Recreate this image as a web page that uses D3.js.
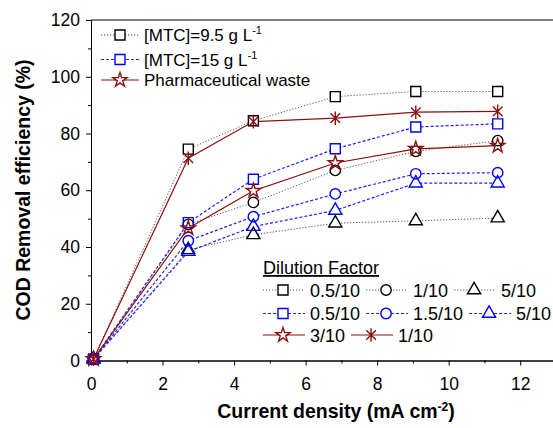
<!DOCTYPE html>
<html>
<head>
<meta charset="utf-8">
<script src="https://cdn.jsdelivr.net/npm/d3@7"></script>
<style>
body { margin: 0; background: #fff; }
text { font-family: Arial, "Liberation Sans", sans-serif; fill: #000; }
</style>
</head>
<body>
<div id="chart"></div>
<script>
// current density (mA cm-2)
const currentDensity = [0.07, 2.72, 4.54, 6.83, 9.08, 11.37];

// COD removal (%) - [MTC]=9.5 g/L
const mtc95Dil05 = [0.5, 74.5, 84.5, 93.0, 94.8, 94.8];
const mtc95Dil1 = [0.5, 48.0, 55.7, 67.0, 73.7, 77.5];
const mtc95Dil5 = [0.5, 39.0, 44.3, 48.4, 49.2, 50.2];
// [MTC]=15 g/L
const mtc15Dil05 = [0.5, 48.6, 63.9, 74.6, 82.3, 83.4];
const mtc15Dil15 = [0.5, 42.2, 50.7, 58.7, 65.8, 66.2];
const mtc15Dil5 = [0.5, 38.4, 47.2, 52.9, 62.5, 62.5];
// pharmaceutical waste
const pharmaDil3 = [0.5, 46.6, 59.8, 69.6, 74.6, 75.7];
const pharmaDil1 = [0.5, 71.3, 84.2, 85.4, 87.5, 87.8];

const xMajorTicks = [0, 2, 4, 6, 8, 10, 12];
const xMinorTicks = [1, 3, 5, 7, 9, 11];
const yMajorTicks = [0, 20, 40, 60, 80, 100, 120];
const yMinorTicks = [10, 30, 50, 70, 90, 110];

const styles = {
	black: { color: '#000', line: '#555', dash: '1.2,1.8', width: 1 },
	blue: { color: '#0000ff', line: '#2020ff', dash: '3,2', width: 1.2 },
	red: { color: '#8c1010', line: '#8c1010', dash: null, width: 1.2 },
};

const series = [
	{ label: '0.5/10', group: 'black', marker: 'square', values: mtc95Dil05 },
	{ label: '1/10', group: 'black', marker: 'circle', values: mtc95Dil1 },
	{ label: '5/10', group: 'black', marker: 'triangle', values: mtc95Dil5 },
	{ label: '0.5/10', group: 'blue', marker: 'square', values: mtc15Dil05 },
	{ label: '1.5/10', group: 'blue', marker: 'circle', values: mtc15Dil15 },
	{ label: '5/10', group: 'blue', marker: 'triangle', values: mtc15Dil5 },
	{ label: '3/10', group: 'red', marker: 'star', values: pharmaDil3 },
	{ label: '1/10', group: 'red', marker: 'asterisk', values: pharmaDil1 },
];

const width = 553, height = 428;
const margin = { top: 20, left: 91 };
const plotW = 465, plotH = 340.5;

const svg = d3.select('#chart').append('svg')
	.attr('width', width)
	.attr('height', height);

const g = svg.append('g').attr('transform', `translate(${margin.left}, ${margin.top})`);

const xScale = d3.scaleLinear().domain([0, 13]).range([0, plotW]);
const yScale = d3.scaleLinear().domain([0, 120]).range([plotH, 0]);

// marker shapes
function markerPath(type) {
	if (type === 'square') return d3.symbol(d3.symbolSquare, 100)();
	if (type === 'circle') return d3.symbol(d3.symbolCircle, 85)();
	if (type === 'triangle') return d3.symbol(d3.symbolTriangle, 75)();
	if (type === 'star') return d3.symbol(d3.symbolStar, 64)();
	// asterisk: vertical + two diagonals
	const r = 6.8, d = r * Math.SQRT1_2;
	return `M0,${-r}L0,${r}M${-d},${-d}L${d},${d}M${-d},${d}L${d},${-d}`;
}

// frame top + right lines
g.append('line')
	.attr('x1', 0).attr('x2', plotW)
	.attr('y1', 0).attr('y2', 0)
	.attr('stroke', '#000');
g.append('line')
	.attr('x1', plotW).attr('x2', plotW)
	.attr('y1', 0).attr('y2', plotH)
	.attr('stroke', '#000');

// axes
const axisFont = g => g.selectAll('text').style('font-size', '17.5px').attr('fill', '#000');
g.append('g').attr('transform', `translate(0, ${plotH})`)
	.call(d3.axisBottom(xScale).tickValues(xMinorTicks).tickSize(3).tickSizeOuter(0).tickFormat(''));
g.append('g').attr('transform', `translate(0, ${plotH})`)
	.call(d3.axisBottom(xScale).tickValues(xMajorTicks).tickSize(5).tickSizeOuter(0).tickPadding(12))
	.call(axisFont);
g.append('g')
	.call(d3.axisLeft(yScale).tickValues(yMinorTicks).tickSize(3).tickSizeOuter(0).tickFormat(''));
g.append('g')
	.call(d3.axisLeft(yScale).tickValues(yMajorTicks).tickSize(5).tickSizeOuter(0).tickPadding(6))
	.call(axisFont);
g.selectAll('.domain').attr('stroke', '#000');

// lines
const line = d3.line()
	.x((d, i) => xScale(currentDensity[i]))
	.y(d => yScale(d));

g.append('g').selectAll('path')
	.data(series)
	.join('path')
	.attr('fill', 'none')
	.attr('stroke', d => styles[d.group].line)
	.attr('stroke-width', d => styles[d.group].width)
	.attr('stroke-dasharray', d => styles[d.group].dash)
	.attr('d', d => line(d.values));

// markers: white backgrounds first, then outlines
const points = series.flatMap(s => s.values.map((v, i) => ({ s, x: currentDensity[i], y: v })));
g.append('g').selectAll('path')
	.data(points.filter(p => p.s.marker !== 'asterisk'))
	.join('path')
	.attr('transform', p => `translate(${xScale(p.x)}, ${yScale(p.y)})`)
	.attr('d', p => markerPath(p.s.marker))
	.attr('fill', '#fff');
g.append('g').selectAll('path')
	.data(points)
	.join('path')
	.attr('transform', p => `translate(${xScale(p.x)}, ${yScale(p.y)})`)
	.attr('d', p => markerPath(p.s.marker))
	.attr('fill', 'none')
	.attr('stroke', p => styles[p.s.group].color)
	.attr('stroke-width', 1.4);

// legend entry helper
function legendSample(parent, x, y, len, markerX, s) {
	const st = styles[s.group];
	parent.append('line')
		.attr('x1', x).attr('x2', x + len)
		.attr('y1', y).attr('y2', y)
		.attr('stroke', st.line)
		.attr('stroke-width', st.width)
		.attr('stroke-dasharray', st.dash);
	if (s.marker !== 'asterisk') {
		parent.append('path')
			.attr('transform', `translate(${markerX}, ${y})`)
			.attr('d', markerPath(s.marker))
			.attr('fill', '#fff');
	}
	parent.append('path')
		.attr('transform', `translate(${markerX}, ${y})`)
		.attr('d', markerPath(s.marker))
		.attr('fill', 'none')
		.attr('stroke', st.color)
		.attr('stroke-width', 1.4);
}

// top-left legend
const legend1 = [
	{ text: '[MTC]=9.5 g L', sup: '-1', s: series[0], y: 35 },
	{ text: '[MTC]=15 g L', sup: '-1', s: series[3], y: 59.5 },
	{ text: 'Pharmaceutical waste', sup: null, s: series[6], y: 80 },
];
for (const item of legend1) {
	legendSample(svg, 101, item.y, 38, 120, item.s);
	const t = svg.append('text')
		.attr('x', 144)
		.attr('y', item.y + 6)
		.style('font-size', '17px')
		.text(item.text);
	if (item.sup) {
		t.append('tspan')
			.attr('dy', -7)
			.style('font-size', '11px')
			.text(item.sup);
	}
}

// bottom-right legend
svg.append('text')
	.attr('x', 263)
	.attr('y', 274)
	.style('font-size', '18px')
	.style('text-decoration', 'underline')
	.text('Dilution Factor');

const legendRows = [
	{ y: 290, items: [series[0], series[1], series[2]] },
	{ y: 313.5, items: [series[3], series[4], series[5]] },
	{ y: 335, items: [series[6], series[7]] },
];
for (const row of legendRows) {
	let x = 263;
	for (const s of row.items) {
		legendSample(svg, x, row.y, 42, x + 20, s);
		const t = svg.append('text')
			.attr('x', x + 47)
			.attr('y', row.y + 6.5)
			.style('font-size', '18px')
			.text(s.label);
		x = x + 47 + t.node().getComputedTextLength() + 6;
	}
}

// axis titles
svg.append('text')
	.attr('x', 336)
	.attr('y', 418)
	.attr('text-anchor', 'middle')
	.style('font-size', '19.5px')
	.style('font-weight', 'bold')
	.text('Current density (mA cm')
	.call(t => t.append('tspan').attr('dy', -7.5).style('font-size', '12px').text('-2'))
	.call(t => t.append('tspan').attr('dy', 7.5).text(')'));

svg.append('text')
	.attr('transform', 'translate(30, 190) rotate(-90)')
	.attr('text-anchor', 'middle')
	.style('font-size', '19.5px')
	.style('font-weight', 'bold')
	.text('COD Removal efficiency (%)');
</script>
</body>
</html>
